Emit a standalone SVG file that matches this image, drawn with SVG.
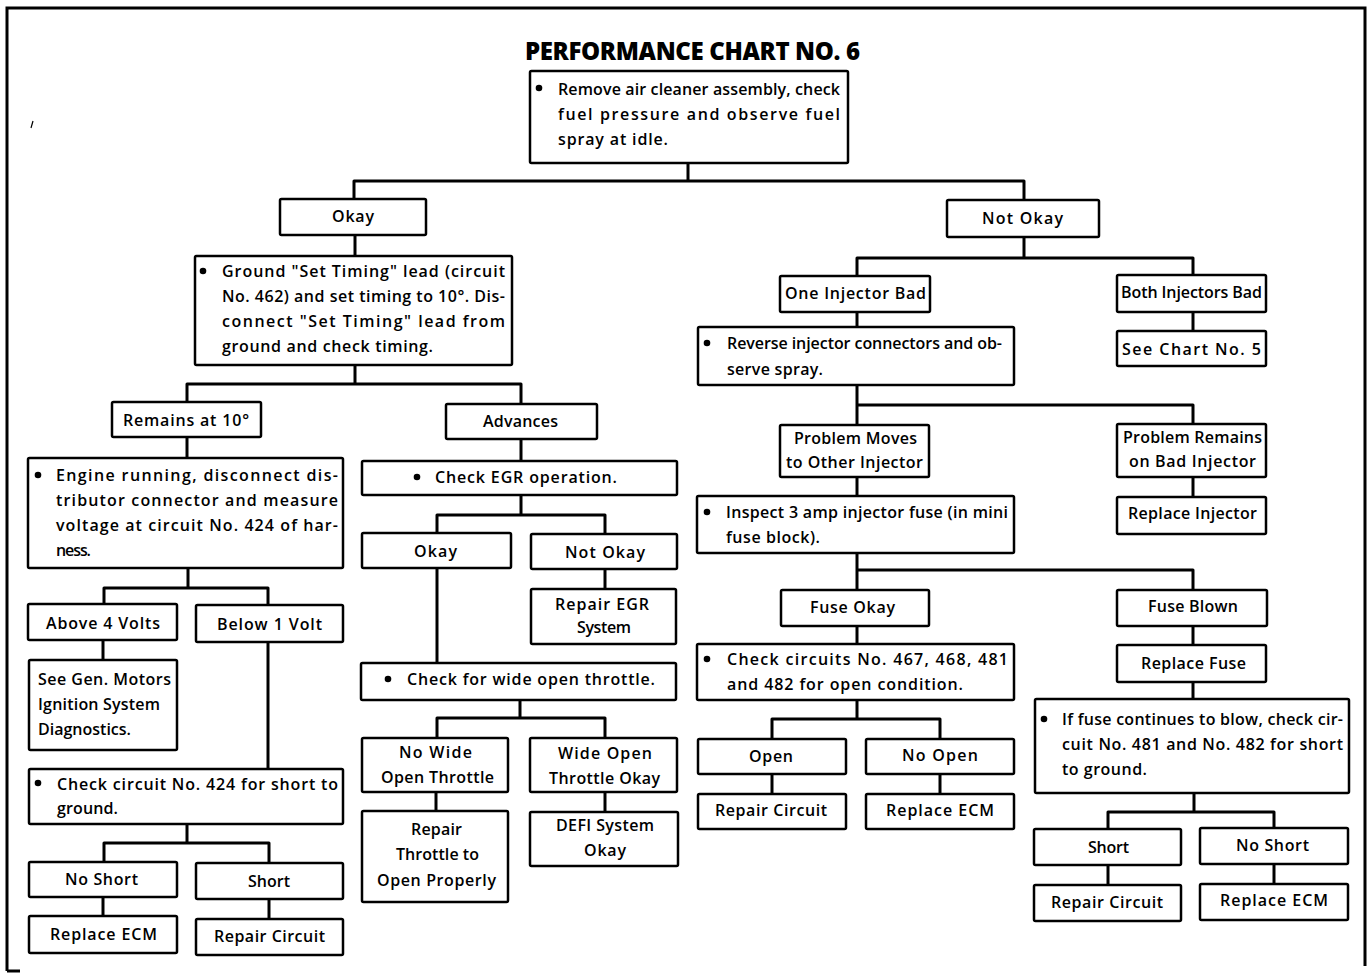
<svg xmlns="http://www.w3.org/2000/svg" width="1368" height="973" viewBox="0 0 1368 973">
  <style>
    .box { fill: #fff; stroke: #000; stroke-width: 2.5; }
    .wire { fill: none; stroke: #000; stroke-width: 3; stroke-linejoin: round; }
    .frame { fill: none; stroke: #000; stroke-width: 3; }
    text { font-family: "Open Sans", Lato, "Liberation Sans", sans-serif; font-size: 16px; font-weight: 600; fill: #000; }
    .title { font-size: 24px; font-weight: 800; }
    .dot { fill: #000; }
  </style>
  <rect width="1368" height="973" fill="#fff"/>

  <!-- page frame -->
  <path class="frame" d="M7,971 V8 H1365 V966"/>
  <path class="frame" d="M7,971 H20"/>
  <path d="M33,121 L31,128" stroke="#000" stroke-width="1.2"/>

  <text class="title" x="525" y="60" textLength="335" lengthAdjust="spacing">PERFORMANCE CHART NO. 6</text>

  <!-- connectors -->
  <g id="connectors">
    <path class="wire" d="M688,163 V181 M354,199 V181 H1024 V200"/>
    <path class="wire" d="M355,235 V256"/>
    <path class="wire" d="M355,365 V384 M187,402 V384 H521 V404"/>
    <path class="wire" d="M187,437 V458"/>
    <path class="wire" d="M521,439 V461"/>
    <path class="wire" d="M188,568 V588 M104,604 V588 H268 V605"/>
    <path class="wire" d="M103,640 V660"/>
    <path class="wire" d="M268,642 V769"/>
    <path class="wire" d="M187,824 V843 M104,862 V843 H269 V863"/>
    <path class="wire" d="M103,897 V916"/>
    <path class="wire" d="M269,899 V919"/>
    <path class="wire" d="M521,495 V515 M437,533 V515 H605 V534"/>
    <path class="wire" d="M605,569 V589"/>
    <path class="wire" d="M437,568 V663"/>
    <path class="wire" d="M520,700 V718 M437,738 V718 H605 V738"/>
    <path class="wire" d="M436,792 V811"/>
    <path class="wire" d="M605,792 V812"/>
    <path class="wire" d="M1024,237 V258 M857,276 V258 H1193 V275"/>
    <path class="wire" d="M857,312 V327"/>
    <path class="wire" d="M1193,312 V331"/>
    <path class="wire" d="M857,385 V425 M857,405 H1193 V424"/>
    <path class="wire" d="M857,477 V496"/>
    <path class="wire" d="M1193,477 V497"/>
    <path class="wire" d="M857,553 V590 M857,570 H1193 V590"/>
    <path class="wire" d="M857,626 V644"/>
    <path class="wire" d="M1193,626 V645"/>
    <path class="wire" d="M1193,682 V699"/>
    <path class="wire" d="M857,700 V719 M772,739 V719 H940 V739"/>
    <path class="wire" d="M772,774 V794"/>
    <path class="wire" d="M940,774 V794"/>
    <path class="wire" d="M1194,793 V812 M1108,829 V812 H1274 V828"/>
    <path class="wire" d="M1108,865 V885"/>
    <path class="wire" d="M1274,864 V884"/>
  </g>

  <!-- top check -->
  <g id="n_start">
    <rect class="box" x="530" y="71" width="318" height="92" rx="1.5"/>
    <circle class="dot" cx="539" cy="88" r="3.3"/>
    <text x="558" y="95" textLength="282" lengthAdjust="spacing">Remove air cleaner assembly, check</text>
    <text x="558" y="120" textLength="282" lengthAdjust="spacing">fuel pressure and observe fuel</text>
    <text x="558" y="145" textLength="110" lengthAdjust="spacing">spray at idle.</text>
  </g>

  <!-- left branch -->
  <g id="n_okay">
    <rect class="box" x="280" y="199" width="146" height="36" rx="1.5"/>
    <text x="332" y="222" textLength="42" lengthAdjust="spacing">Okay</text>
  </g>
  <g id="n_ground">
    <rect class="box" x="195" y="256" width="317" height="109" rx="1.5"/>
    <circle class="dot" cx="203" cy="271" r="3.3"/>
    <text x="222" y="277" textLength="283" lengthAdjust="spacing">Ground "Set Timing" lead (circuit</text>
    <text x="222" y="302" textLength="283" lengthAdjust="spacing">No. 462) and set timing to 10°. Dis-</text>
    <text x="222" y="327" textLength="283" lengthAdjust="spacing">connect "Set Timing" lead from</text>
    <text x="222" y="352" textLength="211" lengthAdjust="spacing">ground and check timing.</text>
  </g>
  <g id="n_remains10">
    <rect class="box" x="112" y="402" width="149" height="35" rx="1.5"/>
    <text x="123" y="426" textLength="126" lengthAdjust="spacing">Remains at 10°</text>
  </g>
  <g id="n_advances">
    <rect class="box" x="446" y="404" width="151" height="35" rx="1.5"/>
    <text x="483" y="427" textLength="75" lengthAdjust="spacing">Advances</text>
  </g>
  <g id="n_engine">
    <rect class="box" x="28" y="458" width="315" height="110" rx="1.5"/>
    <circle class="dot" cx="38" cy="475" r="3.3"/>
    <text x="56" y="481" textLength="282" lengthAdjust="spacing">Engine running, disconnect dis-</text>
    <text x="56" y="506" textLength="282" lengthAdjust="spacing">tributor connector and measure</text>
    <text x="56" y="531" textLength="282" lengthAdjust="spacing">voltage at circuit No. 424 of har-</text>
    <text x="56" y="556" textLength="35" lengthAdjust="spacing">ness.</text>
  </g>
  <g id="n_above4">
    <rect class="box" x="28" y="604" width="149" height="36" rx="1.5"/>
    <text x="46" y="629" textLength="114" lengthAdjust="spacing">Above 4 Volts</text>
  </g>
  <g id="n_below1">
    <rect class="box" x="196" y="605" width="147" height="37" rx="1.5"/>
    <text x="217" y="630" textLength="105" lengthAdjust="spacing">Below 1 Volt</text>
  </g>
  <g id="n_genmotors">
    <rect class="box" x="29" y="660" width="148" height="90" rx="1.5"/>
    <text x="38" y="685" textLength="133" lengthAdjust="spacing">See Gen. Motors</text>
    <text x="38" y="710" textLength="122" lengthAdjust="spacing">Ignition System</text>
    <text x="38" y="735" textLength="93" lengthAdjust="spacing">Diagnostics.</text>
  </g>
  <g id="n_check424">
    <rect class="box" x="29" y="769" width="314" height="55" rx="1.5"/>
    <circle class="dot" cx="38" cy="783" r="3.3"/>
    <text x="57" y="790" textLength="281" lengthAdjust="spacing">Check circuit No. 424 for short to</text>
    <text x="57" y="814" textLength="61" lengthAdjust="spacing">ground.</text>
  </g>
  <g id="n_noshort_l">
    <rect class="box" x="29" y="862" width="148" height="35" rx="1.5"/>
    <text x="65" y="885" textLength="73" lengthAdjust="spacing">No Short</text>
  </g>
  <g id="n_short_l">
    <rect class="box" x="196" y="863" width="147" height="36" rx="1.5"/>
    <text x="248" y="887" textLength="42" lengthAdjust="spacing">Short</text>
  </g>
  <g id="n_ecm_l">
    <rect class="box" x="29" y="916" width="148" height="37" rx="1.5"/>
    <text x="50" y="940" textLength="107" lengthAdjust="spacing">Replace ECM</text>
  </g>
  <g id="n_repair_l">
    <rect class="box" x="196" y="919" width="147" height="36" rx="1.5"/>
    <text x="214" y="942" textLength="111" lengthAdjust="spacing">Repair Circuit</text>
  </g>

  <!-- EGR / throttle column -->
  <g id="n_egr">
    <rect class="box" x="362" y="461" width="315" height="34" rx="1.5"/>
    <circle class="dot" cx="417" cy="477" r="3.3"/>
    <text x="435" y="483" textLength="182" lengthAdjust="spacing">Check EGR operation.</text>
  </g>
  <g id="n_egr_ok">
    <rect class="box" x="362" y="533" width="149" height="35" rx="1.5"/>
    <text x="414" y="557" textLength="43" lengthAdjust="spacing">Okay</text>
  </g>
  <g id="n_egr_notok">
    <rect class="box" x="531" y="534" width="146" height="35" rx="1.5"/>
    <text x="565" y="558" textLength="80" lengthAdjust="spacing">Not Okay</text>
  </g>
  <g id="n_repair_egr">
    <rect class="box" x="531" y="589" width="145" height="55" rx="1.5"/>
    <text x="555" y="610" textLength="94" lengthAdjust="spacing">Repair EGR</text>
    <text x="577" y="633" textLength="54" lengthAdjust="spacing">System</text>
  </g>
  <g id="n_wot">
    <rect class="box" x="361" y="663" width="315" height="37" rx="1.5"/>
    <circle class="dot" cx="388" cy="679" r="3.3"/>
    <text x="407" y="685" textLength="248" lengthAdjust="spacing">Check for wide open throttle.</text>
  </g>
  <g id="n_nowot">
    <rect class="box" x="362" y="738" width="146" height="54" rx="1.5"/>
    <text x="399" y="758" textLength="73" lengthAdjust="spacing">No Wide</text>
    <text x="381" y="783" textLength="113" lengthAdjust="spacing">Open Throttle</text>
  </g>
  <g id="n_wotok">
    <rect class="box" x="530" y="738" width="147" height="54" rx="1.5"/>
    <text x="558" y="759" textLength="94" lengthAdjust="spacing">Wide Open</text>
    <text x="549" y="784" textLength="111" lengthAdjust="spacing">Throttle Okay</text>
  </g>
  <g id="n_repair_thr">
    <rect class="box" x="362" y="811" width="146" height="91" rx="1.5"/>
    <text x="411" y="835" textLength="51" lengthAdjust="spacing">Repair</text>
    <text x="396" y="860" textLength="83" lengthAdjust="spacing">Throttle to</text>
    <text x="377" y="886" textLength="119" lengthAdjust="spacing">Open Properly</text>
  </g>
  <g id="n_defi">
    <rect class="box" x="530" y="812" width="148" height="54" rx="1.5"/>
    <text x="556" y="831" textLength="98" lengthAdjust="spacing">DEFI System</text>
    <text x="584" y="856" textLength="42" lengthAdjust="spacing">Okay</text>
  </g>

  <!-- right branch -->
  <g id="n_notokay">
    <rect class="box" x="947" y="200" width="152" height="37" rx="1.5"/>
    <text x="982" y="224" textLength="81" lengthAdjust="spacing">Not Okay</text>
  </g>
  <g id="n_one_bad">
    <rect class="box" x="780" y="276" width="150" height="36" rx="1.5"/>
    <text x="785" y="299" textLength="141" lengthAdjust="spacing">One Injector Bad</text>
  </g>
  <g id="n_both_bad">
    <rect class="box" x="1117" y="275" width="149" height="37" rx="1.5"/>
    <text x="1121" y="298" textLength="141" lengthAdjust="spacing">Both Injectors Bad</text>
  </g>
  <g id="n_chart5">
    <rect class="box" x="1117" y="331" width="149" height="35" rx="1.5"/>
    <text x="1122" y="355" textLength="139" lengthAdjust="spacing">See Chart No. 5</text>
  </g>
  <g id="n_reverse">
    <rect class="box" x="698" y="327" width="316" height="58" rx="1.5"/>
    <circle class="dot" cx="707" cy="343" r="3.3"/>
    <text x="727" y="349" textLength="275" lengthAdjust="spacing">Reverse injector connectors and ob-</text>
    <text x="727" y="375" textLength="96" lengthAdjust="spacing">serve spray.</text>
  </g>
  <g id="n_moves">
    <rect class="box" x="780" y="425" width="149" height="52" rx="1.5"/>
    <text x="794" y="444" textLength="123" lengthAdjust="spacing">Problem Moves</text>
    <text x="786" y="468" textLength="137" lengthAdjust="spacing">to Other Injector</text>
  </g>
  <g id="n_stays">
    <rect class="box" x="1117" y="424" width="149" height="53" rx="1.5"/>
    <text x="1123" y="443" textLength="139" lengthAdjust="spacing">Problem Remains</text>
    <text x="1129" y="467" textLength="127" lengthAdjust="spacing">on Bad Injector</text>
  </g>
  <g id="n_replace_inj">
    <rect class="box" x="1117" y="497" width="149" height="37" rx="1.5"/>
    <text x="1128" y="519" textLength="129" lengthAdjust="spacing">Replace Injector</text>
  </g>
  <g id="n_inspect">
    <rect class="box" x="697" y="496" width="317" height="57" rx="1.5"/>
    <circle class="dot" cx="707" cy="512" r="3.3"/>
    <text x="726" y="518" textLength="282" lengthAdjust="spacing">Inspect 3 amp injector fuse (in mini</text>
    <text x="726" y="543" textLength="94" lengthAdjust="spacing">fuse block).</text>
  </g>
  <g id="n_fuse_ok">
    <rect class="box" x="781" y="590" width="148" height="36" rx="1.5"/>
    <text x="810" y="613" textLength="85" lengthAdjust="spacing">Fuse Okay</text>
  </g>
  <g id="n_fuse_blown">
    <rect class="box" x="1117" y="590" width="150" height="36" rx="1.5"/>
    <text x="1148" y="612" textLength="90" lengthAdjust="spacing">Fuse Blown</text>
  </g>
  <g id="n_replace_fuse">
    <rect class="box" x="1117" y="645" width="149" height="37" rx="1.5"/>
    <text x="1141" y="669" textLength="105" lengthAdjust="spacing">Replace Fuse</text>
  </g>
  <g id="n_circuits">
    <rect class="box" x="697" y="644" width="317" height="56" rx="1.5"/>
    <circle class="dot" cx="707" cy="659" r="3.3"/>
    <text x="727" y="665" textLength="281" lengthAdjust="spacing">Check circuits No. 467, 468, 481</text>
    <text x="727" y="690" textLength="236" lengthAdjust="spacing">and 482 for open condition.</text>
  </g>
  <g id="n_open">
    <rect class="box" x="698" y="739" width="148" height="35" rx="1.5"/>
    <text x="749" y="762" textLength="44" lengthAdjust="spacing">Open</text>
  </g>
  <g id="n_noopen">
    <rect class="box" x="866" y="739" width="148" height="35" rx="1.5"/>
    <text x="902" y="761" textLength="76" lengthAdjust="spacing">No Open</text>
  </g>
  <g id="n_repair_r1">
    <rect class="box" x="698" y="794" width="148" height="35" rx="1.5"/>
    <text x="715" y="816" textLength="112" lengthAdjust="spacing">Repair Circuit</text>
  </g>
  <g id="n_ecm_r1">
    <rect class="box" x="866" y="794" width="148" height="35" rx="1.5"/>
    <text x="886" y="816" textLength="108" lengthAdjust="spacing">Replace ECM</text>
  </g>
  <g id="n_fuse_again">
    <rect class="box" x="1035" y="699" width="314" height="94" rx="1.5"/>
    <circle class="dot" cx="1044" cy="719" r="3.3"/>
    <text x="1062" y="725" textLength="281" lengthAdjust="spacing">If fuse continues to blow, check cir-</text>
    <text x="1062" y="750" textLength="281" lengthAdjust="spacing">cuit No. 481 and No. 482 for short</text>
    <text x="1062" y="775" textLength="85" lengthAdjust="spacing">to ground.</text>
  </g>
  <g id="n_short_r">
    <rect class="box" x="1034" y="829" width="147" height="36" rx="1.5"/>
    <text x="1088" y="853" textLength="41" lengthAdjust="spacing">Short</text>
  </g>
  <g id="n_noshort_r">
    <rect class="box" x="1200" y="828" width="148" height="36" rx="1.5"/>
    <text x="1236" y="851" textLength="73" lengthAdjust="spacing">No Short</text>
  </g>
  <g id="n_repair_r2">
    <rect class="box" x="1034" y="885" width="147" height="36" rx="1.5"/>
    <text x="1051" y="908" textLength="112" lengthAdjust="spacing">Repair Circuit</text>
  </g>
  <g id="n_ecm_r2">
    <rect class="box" x="1200" y="884" width="148" height="36" rx="1.5"/>
    <text x="1220" y="906" textLength="108" lengthAdjust="spacing">Replace ECM</text>
  </g>
</svg>
